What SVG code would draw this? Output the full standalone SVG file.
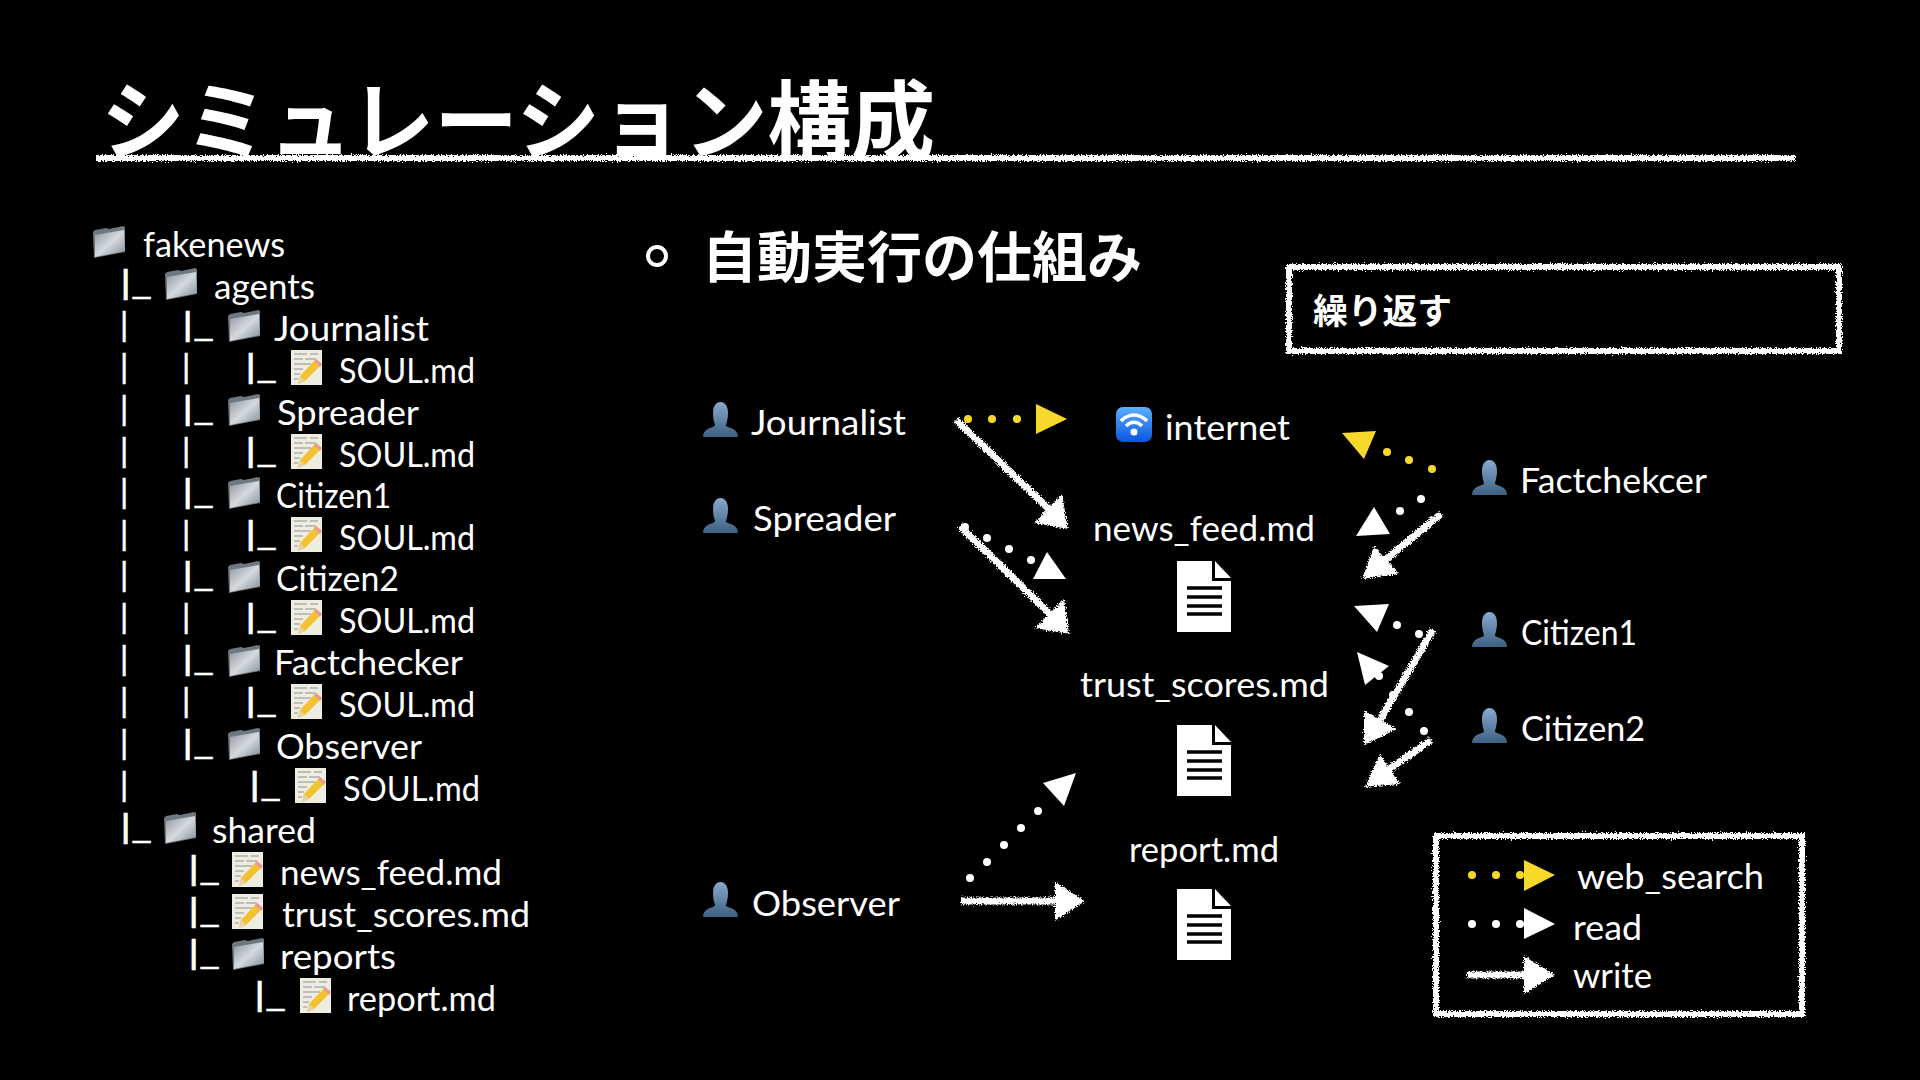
<svg xmlns="http://www.w3.org/2000/svg" width="1920" height="1080" viewBox="0 0 1920 1080">
<style>
text{fill:#fff;font-family:"Lato","Noto Sans",sans-serif;font-size:35px;transform:translate(0,1.500px)}
.b{font-size:33px;stroke:#fff;stroke-width:.6px}
.jp{font-family:"Noto Sans CJK JP",sans-serif}
.chalk{stroke:#fff;fill:none}
.y{fill:#f7d92c}
.w{fill:#fff}
</style>
<defs>
<filter id="chalk" x="0" y="0" width="1920" height="1080" filterUnits="userSpaceOnUse">
<feTurbulence type="fractalNoise" baseFrequency="0.8" numOctaves="2" seed="3" result="n"/>
<feDisplacementMap in="SourceGraphic" in2="n" scale="6" xChannelSelector="R" yChannelSelector="G"/>
</filter>
<linearGradient id="fg" x1="0" y1="0" x2="1" y2="1"><stop offset="0" stop-color="#8d969e"/><stop offset=".5" stop-color="#d5dade"/><stop offset="1" stop-color="#7f8a94"/></linearGradient>
<linearGradient id="pg" x1="0" y1="0" x2="0" y2="1"><stop offset="0" stop-color="#86a9cd"/><stop offset="1" stop-color="#3e6082"/></linearGradient>
<linearGradient id="wg" x1="0" y1="0" x2="0" y2="1"><stop offset="0" stop-color="#5ab0ff"/><stop offset="1" stop-color="#0b55e0"/></linearGradient>
<symbol id="folder" viewBox="0 0 33 32" overflow="visible">
<path d="M0 6 L2 4 L13 2 L16 3 L30 0 L32 1 L32 26 L1 32Z" fill="#6f7880"/>
<path d="M2 9 L31 4 L32 25 L2 31Z" fill="url(#fg)"/>
</symbol>
<symbol id="note" viewBox="0 0 31 35" overflow="visible">
<rect width="31" height="35" fill="#efece0"/>
<path d="M3 4H16M19 4H27M3 9H12M14 9H25M3 14H20M3 19H12M3 24H9M3 29H7" stroke="#8a8f96" stroke-width="1" fill="none"/>
<path d="M25 9 L31 14 L14 31 L7 34 L9 26Z" fill="#f2c230"/>
<path d="M25 9 L31 14 L29 17 L23 11Z" fill="#e79a9a"/>
<path d="M9 26 L14 31 L7 34Z" fill="#e8d0a8"/>
</symbol>
<symbol id="person" viewBox="0 0 35 35">
<path d="M0 35C0 27 8 26 12 24C12 22 10 18 10 11C10 4 13 0 17.500 0C22 0 25 4 25 11C25 18 23 22 23 24C27 26 35 27 35 35Z" fill="url(#pg)"/>
</symbol>
<symbol id="wifi" viewBox="0 0 36 35">
<rect width="36" height="35" rx="7" fill="url(#wg)"/>
<path d="M5 14C13 6 23 6 31 14M10 19C15 14 21 14 26 19" fill="none" stroke="#fff" stroke-width="3.500"/>
<circle cx="18" cy="25" r="3.500" fill="#fff"/>
</symbol>
<symbol id="doc" viewBox="0 0 54 71">
<path d="M0 0H35V20H54V71H0Z" fill="#fff"/>
<path d="M38 0L54 17H38Z" fill="#fff"/>
<path d="M10 27H45M10 36H45M10 45H45M10 53H45" stroke="#000" stroke-width="3.500"/>
</symbol>
</defs>
<rect width="1920" height="1080" fill="#000"/>

<g id="title">
<text class="jp" x="101" y="151" font-weight="700" style="font-size:86px" textLength="834" lengthAdjust="spacingAndGlyphs">シミュレーション構成</text>
<path d="M96 158H1795" stroke="#fff" stroke-width="6" filter="url(#chalk)"/>
</g>

<g id="tree">
<g id="t-fakenews"><use href="#folder" x="93" y="226" width="33" height="32"/><text x="143" y="255" textLength="142" lengthAdjust="spacingAndGlyphs">fakenews</text></g>
<g id="t-agents"><text class="b" x="120" y="292" textLength="32" lengthAdjust="spacingAndGlyphs">|_</text><use href="#folder" x="165" y="268" width="33" height="32"/><text x="214" y="297" textLength="101" lengthAdjust="spacingAndGlyphs">agents</text></g>
<g id="t-journalist"><text class="b" x="120" y="334">|</text><text class="b" x="182" y="334" textLength="32" lengthAdjust="spacingAndGlyphs">|_</text><use href="#folder" x="228" y="310" width="33" height="32"/><text x="274" y="339" textLength="155" lengthAdjust="spacingAndGlyphs">Journalist</text></g>
<g id="t-soul1"><text class="b" x="120" y="376">|</text><text class="b" x="182" y="376">|</text><text class="b" x="245" y="376" textLength="32" lengthAdjust="spacingAndGlyphs">|_</text><use href="#note" x="291" y="350" width="31" height="35"/><text x="339" y="381" textLength="136" lengthAdjust="spacingAndGlyphs">SOUL.md</text></g>
<g id="t-spreader"><text class="b" x="120" y="418">|</text><text class="b" x="182" y="418" textLength="32" lengthAdjust="spacingAndGlyphs">|_</text><use href="#folder" x="228" y="394" width="33" height="32"/><text x="277" y="423" textLength="142" lengthAdjust="spacingAndGlyphs">Spreader</text></g>
<g id="t-soul2"><text class="b" x="120" y="460">|</text><text class="b" x="182" y="460">|</text><text class="b" x="245" y="460" textLength="32" lengthAdjust="spacingAndGlyphs">|_</text><use href="#note" x="291" y="434" width="31" height="35"/><text x="339" y="465" textLength="136" lengthAdjust="spacingAndGlyphs">SOUL.md</text></g>
<g id="t-citizen1"><text class="b" x="120" y="501">|</text><text class="b" x="182" y="501" textLength="32" lengthAdjust="spacingAndGlyphs">|_</text><use href="#folder" x="228" y="477" width="33" height="32"/><text x="276" y="506" textLength="115" lengthAdjust="spacingAndGlyphs">Citizen1</text></g>
<g id="t-soul3"><text class="b" x="120" y="543">|</text><text class="b" x="182" y="543">|</text><text class="b" x="245" y="543" textLength="32" lengthAdjust="spacingAndGlyphs">|_</text><use href="#note" x="291" y="517" width="31" height="35"/><text x="339" y="548" textLength="136" lengthAdjust="spacingAndGlyphs">SOUL.md</text></g>
<g id="t-citizen2"><text class="b" x="120" y="584">|</text><text class="b" x="182" y="584" textLength="32" lengthAdjust="spacingAndGlyphs">|_</text><use href="#folder" x="228" y="561" width="33" height="32"/><text x="276" y="589" textLength="123" lengthAdjust="spacingAndGlyphs">Citizen2</text></g>
<g id="t-soul4"><text class="b" x="120" y="626">|</text><text class="b" x="182" y="626">|</text><text class="b" x="245" y="626" textLength="32" lengthAdjust="spacingAndGlyphs">|_</text><use href="#note" x="291" y="600" width="31" height="35"/><text x="339" y="631" textLength="136" lengthAdjust="spacingAndGlyphs">SOUL.md</text></g>
<g id="t-factchecker"><text class="b" x="120" y="668">|</text><text class="b" x="182" y="668" textLength="32" lengthAdjust="spacingAndGlyphs">|_</text><use href="#folder" x="228" y="645" width="33" height="32"/><text x="274" y="673" textLength="189" lengthAdjust="spacingAndGlyphs">Factchecker</text></g>
<g id="t-soul5"><text class="b" x="120" y="710">|</text><text class="b" x="182" y="710">|</text><text class="b" x="245" y="710" textLength="32" lengthAdjust="spacingAndGlyphs">|_</text><use href="#note" x="291" y="684" width="31" height="35"/><text x="339" y="715" textLength="136" lengthAdjust="spacingAndGlyphs">SOUL.md</text></g>
<g id="t-observer"><text class="b" x="120" y="752">|</text><text class="b" x="182" y="752" textLength="32" lengthAdjust="spacingAndGlyphs">|_</text><use href="#folder" x="228" y="728" width="33" height="32"/><text x="276" y="757" textLength="146" lengthAdjust="spacingAndGlyphs">Observer</text></g>
<g id="t-soul6"><text class="b" x="120" y="794">|</text><text class="b" x="249" y="794" textLength="32" lengthAdjust="spacingAndGlyphs">|_</text><use href="#note" x="295" y="768" width="31" height="35"/><text x="343" y="799" textLength="137" lengthAdjust="spacingAndGlyphs">SOUL.md</text></g>
<g id="t-shared"><text class="b" x="120" y="836" textLength="32" lengthAdjust="spacingAndGlyphs">|_</text><use href="#folder" x="164" y="812" width="33" height="32"/><text x="212" y="841" textLength="104" lengthAdjust="spacingAndGlyphs">shared</text></g>
<g id="t-news"><text class="b" x="188" y="878" textLength="32" lengthAdjust="spacingAndGlyphs">|_</text><use href="#note" x="232" y="852" width="31" height="35"/><text x="280" y="883" textLength="222" lengthAdjust="spacingAndGlyphs">news_feed.md</text></g>
<g id="t-trust"><text class="b" x="188" y="920" textLength="32" lengthAdjust="spacingAndGlyphs">|_</text><use href="#note" x="232" y="894" width="31" height="35"/><text x="282" y="925" textLength="248" lengthAdjust="spacingAndGlyphs">trust_scores.md</text></g>
<g id="t-reports"><text class="b" x="188" y="962" textLength="32" lengthAdjust="spacingAndGlyphs">|_</text><use href="#folder" x="232" y="938" width="33" height="32"/><text x="280" y="967" textLength="116" lengthAdjust="spacingAndGlyphs">reports</text></g>
<g id="t-report"><text class="b" x="254" y="1004" textLength="32" lengthAdjust="spacingAndGlyphs">|_</text><use href="#note" x="300" y="978" width="31" height="35"/><text x="347" y="1009" textLength="149" lengthAdjust="spacingAndGlyphs">report.md</text></g>
</g>

<g id="heading">
<circle cx="657" cy="256" r="9" fill="none" stroke="#fff" stroke-width="4"/>
<text class="jp" x="702" y="275" style="font-size:55px" font-weight="700" textLength="440" lengthAdjust="spacingAndGlyphs">自動実行の仕組み</text>
</g>

<g id="repeat-box">
<rect x="1289" y="267" width="550" height="84" fill="none" stroke="#fff" stroke-width="6" filter="url(#chalk)"/>
<text class="jp" x="1313" y="322" style="font-size:35px" font-weight="700" textLength="139" lengthAdjust="spacingAndGlyphs">繰り返す</text>
</g>

<g id="n-journalist"><use href="#person" x="703" y="402" width="35" height="35"/><text x="751" y="433" textLength="155" lengthAdjust="spacingAndGlyphs">Journalist</text></g>
<g id="n-spreader"><use href="#person" x="703" y="498" width="35" height="35"/><text x="753" y="529" textLength="143" lengthAdjust="spacingAndGlyphs">Spreader</text></g>
<g id="n-observer"><use href="#person" x="703" y="882" width="35" height="35"/><text x="752" y="914" textLength="148" lengthAdjust="spacingAndGlyphs">Observer</text></g>
<g id="n-internet"><use href="#wifi" x="1116" y="407" width="36" height="35"/><text x="1165" y="438" textLength="125" lengthAdjust="spacingAndGlyphs">internet</text></g>
<g id="n-news"><text x="1093" y="539" textLength="222" lengthAdjust="spacingAndGlyphs">news_feed.md</text><use href="#doc" x="1177" y="561" width="54" height="71"/></g>
<g id="n-trust"><text x="1080" y="695" textLength="249" lengthAdjust="spacingAndGlyphs">trust_scores.md</text><use href="#doc" x="1177" y="725" width="54" height="71"/></g>
<g id="n-report"><text x="1129" y="860" textLength="150" lengthAdjust="spacingAndGlyphs">report.md</text><use href="#doc" x="1177" y="889" width="54" height="71"/></g>
<g id="n-factchecker"><use href="#person" x="1472" y="460" width="35" height="35"/><text x="1520" y="491" textLength="187" lengthAdjust="spacingAndGlyphs">Factchekcer</text></g>
<g id="n-citizen1"><use href="#person" x="1472" y="612" width="35" height="35"/><text x="1521" y="643" textLength="116" lengthAdjust="spacingAndGlyphs">Citizen1</text></g>
<g id="n-citizen2"><use href="#person" x="1472" y="708" width="35" height="35"/><text x="1521" y="739" textLength="124" lengthAdjust="spacingAndGlyphs">Citizen2</text></g>

<g id="connectors">
<g id="search" class="y">
<circle cx="968" cy="419" r="4"/><circle cx="992" cy="419" r="4"/><circle cx="1017" cy="419" r="4"/><path d="M1036 404L1067 419L1036 434Z"/>
<circle cx="1387" cy="452" r="4"/><circle cx="1409" cy="460" r="4"/><circle cx="1432" cy="469" r="4"/><path d="M1342 433L1376 431L1364 459Z"/>
</g>
<g id="read" class="w">
<circle cx="965" cy="527" r="4"/><circle cx="987" cy="538" r="4"/><circle cx="1009" cy="549" r="4"/><circle cx="1031" cy="560" r="4"/><path d="M1047 552L1033 579L1066 579Z"/>
<circle cx="1421" cy="499" r="4"/><circle cx="1400" cy="511" r="4"/><path d="M1374 507L1356 536L1390 534Z"/>
<circle cx="1397" cy="625" r="4"/><circle cx="1419" cy="634" r="4"/><path d="M1354 606L1389 604L1377 632Z"/>
<circle cx="1424" cy="731" r="4"/><circle cx="1409" cy="712" r="4"/><circle cx="1393" cy="695" r="4"/><circle cx="1379" cy="676" r="4"/><path d="M1357 652L1389 666L1365 685Z"/>
<circle cx="970" cy="878" r="4"/><circle cx="987" cy="862" r="4"/><circle cx="1004" cy="845" r="4"/><circle cx="1021" cy="828" r="4"/><circle cx="1038" cy="811" r="4"/><path d="M1076 773L1043 783L1064 806Z"/>
</g>
<g id="write" filter="url(#chalk)">
<path class="chalk" stroke-width="7" d="M956 420L1050 510"/><path class="w" d="M1068 529L1062 494L1034 523Z"/>
<path class="chalk" stroke-width="7" d="M960 526L1052 616"/><path class="w" d="M1069 634L1064 599L1035 628Z"/>
<path class="chalk" stroke-width="7" d="M1441 514L1385 560"/><path class="w" d="M1362 579L1374 546L1399 574Z"/>
<path class="chalk" stroke-width="7" d="M1433 630L1380 720"/><path class="w" d="M1364 745L1364 710L1397 729Z"/>
<path class="chalk" stroke-width="7" d="M1431 740L1388 770"/><path class="w" d="M1365 787L1380 754L1400 784Z"/>
<path class="chalk" stroke-width="7" d="M961 901H1060"/><path class="w" d="M1085 901L1055 882L1055 921Z"/>
</g>
</g>

<g id="legend">
<rect x="1436" y="836" width="366" height="178" fill="none" stroke="#fff" stroke-width="6" filter="url(#chalk)"/>
<g class="y"><circle cx="1472" cy="875" r="4"/><circle cx="1496" cy="875" r="4"/><circle cx="1520" cy="875" r="4"/><path d="M1524 860L1555 875L1524 891Z"/></g>
<text x="1577" y="887" textLength="187" lengthAdjust="spacingAndGlyphs">web_search</text>
<g class="w"><circle cx="1472" cy="924" r="4"/><circle cx="1496" cy="924" r="4"/><circle cx="1520" cy="924" r="4"/><path d="M1524 908L1555 924L1524 939Z"/></g>
<text x="1573" y="938" textLength="69" lengthAdjust="spacingAndGlyphs">read</text>
<g filter="url(#chalk)"><path class="chalk" stroke-width="7" d="M1467 975H1530"/><path class="w" d="M1555 975L1524 956L1524 994Z"/></g>
<text x="1573" y="986" textLength="79" lengthAdjust="spacingAndGlyphs">write</text>
</g>
</svg>
